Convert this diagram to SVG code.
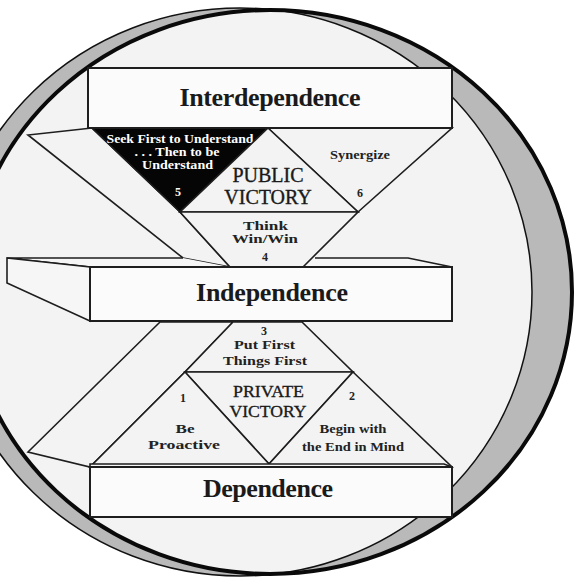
<svg xmlns="http://www.w3.org/2000/svg" width="575" height="579" viewBox="0 0 575 579">
<defs>
<clipPath id="clipA"><ellipse cx="270" cy="292" rx="302" ry="282"/></clipPath>
<style>
.face{fill:#f3f3f3;stroke:#1e1e1e;stroke-width:1.6;stroke-linejoin:miter}
.blk{fill:#050505;stroke:#1e1e1e;stroke-width:1.6}
.slab{fill:#fbfbfb;stroke:#1e1e1e;stroke-width:2}
.side{fill:#f6f6f6;stroke:#1e1e1e;stroke-width:1.6;stroke-linejoin:miter}
.topf{fill:#f6f6f6;stroke:none}
.edge{fill:none;stroke:#1e1e1e;stroke-width:1.6;stroke-linejoin:miter}
.big{font-family:"Liberation Serif","Times New Roman",serif;font-weight:bold;font-size:26px;fill:#1a1a1a;text-anchor:middle}
.vic{font-family:"Liberation Serif","Times New Roman",serif;font-size:20px;fill:#1a1a1a;stroke:#1a1a1a;stroke-width:0.35;text-anchor:middle}
.vic2{font-family:"Liberation Serif","Times New Roman",serif;font-size:17.5px;fill:#1a1a1a;stroke:#1a1a1a;stroke-width:0.35;text-anchor:middle}
.sm{font-family:"Liberation Serif","Times New Roman",serif;font-weight:bold;font-size:12px;fill:#222;text-anchor:middle}
.wh{fill:#ffffff}
</style>
</defs>
<rect width="575" height="579" fill="#ffffff"/>
<g id="disc">
<ellipse cx="240" cy="292" rx="292" ry="284" fill="#b9b9b9"/>
<ellipse cx="270" cy="292" rx="302" ry="282" fill="#b9b9b9"/>
<ellipse cx="240" cy="292" rx="292" ry="284" fill="#f3f3f3" clip-path="url(#clipA)"/>
<ellipse cx="240" cy="292" rx="292" ry="284" fill="none" stroke="#111" stroke-width="1.5"/>
<ellipse cx="270" cy="292" rx="302" ry="282" fill="none" stroke="#0a0a0a" stroke-width="4"/>
</g>
<g id="edges">
<polygon id="upper-wedge" class="face" points="92,128 28,135 183,258 230,267 180,212"/>
<polygon id="lower-wedge" class="face" points="160,322 28,452 90,467 185,372 233,322"/>
</g>
<g id="seek-first">
<polygon class="blk" points="92,128 268,128 180,212"/>
<text class="sm wh" x="180" y="143" textLength="147" lengthAdjust="spacingAndGlyphs">Seek First to Understand</text>
<text class="sm wh" x="177" y="156" textLength="85" lengthAdjust="spacingAndGlyphs">. . . Then to be</text>
<text class="sm wh" x="177.5" y="168.5" textLength="71" lengthAdjust="spacingAndGlyphs">Understand</text>
<text class="sm wh" x="178" y="196">5</text>
</g>
<g id="synergize">
<polygon class="face" points="268,128 452,128 358,212"/>
<text class="sm" x="360" y="159" textLength="60" lengthAdjust="spacingAndGlyphs">Synergize</text>
<text class="sm" x="360" y="197">6</text>
</g>
<g id="public-victory">
<polygon class="face" points="268,128 358,212 180,212"/>
<text class="vic" x="268" y="182">PUBLIC</text>
<text class="vic" x="268" y="204">VICTORY</text>
</g>
<g id="independence-faces">
<polygon class="topf" points="7,258 183,258 230,267 90,267"/>
<polygon class="topf" points="315,258 408,258 452,267 303,267"/>
<polyline class="edge" points="183,258 7,258 90,267"/>
<polyline class="edge" points="315,258 408,258 452,267"/>
<polygon class="side" points="7,258 90,267 90,321 7,283"/>
</g>
<g id="think-win-win">
<polygon class="face" points="180,212 358,212 303,267 230,267"/>
<text class="sm" x="265.5" y="230" textLength="45" lengthAdjust="spacingAndGlyphs">Think</text>
<text class="sm" x="265" y="243" textLength="66" lengthAdjust="spacingAndGlyphs">Win/Win</text>
<text class="sm" x="265" y="261">4</text>
</g>
<g id="put-first">
<polygon class="face" points="233,322 302,322 353,372 185,372"/>
<text class="sm" x="264" y="335">3</text>
<text class="sm" x="264.5" y="349" textLength="61" lengthAdjust="spacingAndGlyphs">Put First</text>
<text class="sm" x="265" y="365" textLength="84" lengthAdjust="spacingAndGlyphs">Things First</text>
</g>
<g id="private-victory">
<polygon class="face" points="185,372 353,372 269,464"/>
<text class="vic2" x="268.5" y="397" textLength="71" lengthAdjust="spacingAndGlyphs">PRIVATE</text>
<text class="vic2" x="268" y="417" textLength="77" lengthAdjust="spacingAndGlyphs">VICTORY</text>
</g>
<g id="be-proactive">
<polygon class="face" points="185,372 269,464 270,467 90,467"/>
<text class="sm" x="183" y="402">1</text>
<text class="sm" x="185" y="433" textLength="19" lengthAdjust="spacingAndGlyphs">Be</text>
<text class="sm" x="184" y="449" textLength="72" lengthAdjust="spacingAndGlyphs">Proactive</text>
</g>
<g id="begin-with-end">
<polygon class="face" points="353,372 452,467 270,467 269,464"/>
<text class="sm" x="352" y="400">2</text>
<text class="sm" x="353" y="433" textLength="67" lengthAdjust="spacingAndGlyphs">Begin with</text>
<text class="sm" x="353" y="451" textLength="102" lengthAdjust="spacingAndGlyphs">the End in Mind</text>
</g>
<g id="interdependence">
<rect class="slab" x="88" y="68" width="364" height="60"/>
<text class="big" x="270" y="106" textLength="181">Interdependence</text>
</g>
<g id="independence">
<rect class="slab" x="90" y="267" width="362" height="54"/>
<text class="big" x="272" y="301" textLength="152">Independence</text>
</g>
<g id="dependence">
<polygon class="side" points="90,464 444,464 452,467 90,467"/>
<rect class="slab" x="90" y="467" width="362" height="50"/>
<text class="big" x="268" y="497" textLength="130">Dependence</text>
</g>
</svg>
